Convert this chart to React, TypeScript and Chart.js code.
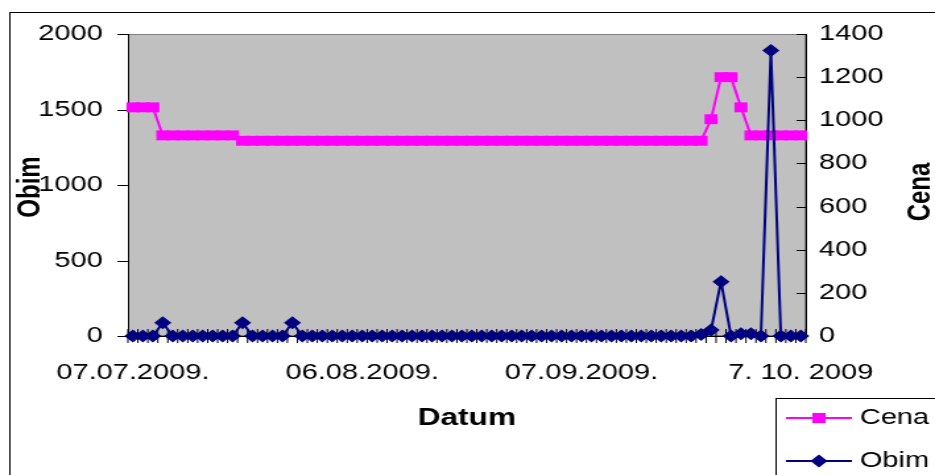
import React, { useEffect, useRef } from 'react';
import { Chart, registerables } from 'chart.js';

Chart.register(...registerables);

// ---- data ----
const tickLabels: string[] = ['07.07.2009.', '06.08.2009.', '07.09.2009.', '7. 10. 2009'];
const tickIndices: number[] = [0, 23, 45, 67];

const obim: number[] = [
  0, 0, 0, 88, 0, 0, 0, 0, 0, 0,
  0, 88, 0, 0, 0, 0, 88, 0, 0, 0,
  0, 0, 0, 0, 0, 0, 0, 0, 0, 0,
  0, 0, 0, 0, 0, 0, 0, 0, 0, 0,
  0, 0, 0, 0, 0, 0, 0, 0, 0, 0,
  0, 0, 0, 0, 0, 0, 0, 10, 40, 360,
  0, 15, 15, 0, 1890, 0, 0, 0,
];

const cena: number[] = [
  1060, 1060, 1060, 930, 930, 930, 930, 930, 930, 930,
  930, 905, 905, 905, 905, 905, 905, 905, 905, 905,
  905, 905, 905, 905, 905, 905, 905, 905, 905, 905,
  905, 905, 905, 905, 905, 905, 905, 905, 905, 905,
  905, 905, 905, 905, 905, 905, 905, 905, 905, 905,
  905, 905, 905, 905, 905, 905, 905, 905, 1005, 1200,
  1200, 1060, 930, 930, 930, 930, 930, 930,
];

const categories: string[] = obim.map((_, i) => {
  const k = tickIndices.indexOf(i);
  return k >= 0 ? tickLabels[k] : '';
});

const FONT = "'Liberation Sans', Arial, sans-serif";
const CW = 709;
const CH = 475;
const SX = 935 / CW;

const PINK = '#FF00FF';
const NAVY = '#000080';

const chartPlugin = {
  id: 'excelLook',
  beforeDraw(chart: any) {
    const ctx = chart.ctx;
    const { left, top, right, bottom } = chart.chartArea;
    ctx.save();
    ctx.fillStyle = '#ffffff';
    ctx.fillRect(0, 0, chart.width, chart.height);
    ctx.fillStyle = '#C0C0C0';
    ctx.fillRect(left, top, right - left, bottom - top);
    ctx.strokeStyle = '#808080';
    ctx.lineWidth = 1;
    ctx.strokeRect(left + 0.5, top + 0.5, right - left - 1, bottom - top - 1);
    // outer chart border
    ctx.strokeStyle = '#000000';
    ctx.strokeRect(7.5, 12.5, 900, 700);
    ctx.restore();
  },
  beforeDatasetsDraw(chart: any) {
    const ctx = chart.ctx;
    const { left, right, bottom } = chart.chartArea;
    const xs = chart.scales.x;
    const yl = chart.scales.y;
    const yr = chart.scales.y1;
    ctx.save();
    ctx.strokeStyle = '#000000';
    ctx.lineWidth = 1;
    ctx.beginPath();
    yl.ticks.forEach((t: any) => {
      const y = Math.round(yl.getPixelForValue(t.value)) + 0.5;
      ctx.moveTo(left - 8, y);
      ctx.lineTo(left, y);
    });
    yr.ticks.forEach((t: any) => {
      const y = Math.round(yr.getPixelForValue(t.value)) + 0.5;
      ctx.moveTo(right - 7, y);
      ctx.lineTo(right, y);
    });
    for (let i = 0; i <= categories.length; i++) {
      const x = xs.getPixelForValue(i - 0.5);
      ctx.moveTo(x, bottom - 7);
      ctx.lineTo(x, bottom + 7);
    }
    ctx.stroke();
    ctx.restore();
  },
  afterDraw(chart: any) {
    const ctx = chart.ctx;
    ctx.save();
    ctx.fillStyle = '#000000';
    ctx.textBaseline = 'middle';
    ctx.textAlign = 'center';
    ctx.font = `bold 24px ${FONT}`;
    ctx.fillText('Datum', 354, 418);
    ctx.save();
    ctx.translate(23, 187);
    ctx.rotate(-Math.PI / 2);
    ctx.fillText('Obim', 0, 0);
    ctx.restore();
    ctx.save();
    ctx.translate(698, 192);
    ctx.rotate(-Math.PI / 2);
    ctx.fillText('Cena', 0, 0);
    ctx.restore();

    // legend
    ctx.strokeStyle = '#000000';
    ctx.lineWidth = 1;
    ctx.strokeRect(588.5, 398.5, 300, 200);
    const items = [
      { label: chart.data.datasets[0].label, color: PINK, style: 'rect', y: 418 },
      { label: chart.data.datasets[1].label, color: NAVY, style: 'diamond', y: 461 },
    ];
    items.forEach((it) => {
      ctx.strokeStyle = it.color;
      ctx.fillStyle = it.color;
      ctx.lineWidth = 2;
      ctx.beginPath();
      ctx.moveTo(596, it.y);
      ctx.lineTo(646, it.y);
      ctx.stroke();
      ctx.beginPath();
      if (it.style === 'rect') {
        ctx.rect(621 - 5, it.y - 5, 10, 10);
      } else {
        ctx.moveTo(621, it.y - 6.5);
        ctx.lineTo(627.5, it.y);
        ctx.lineTo(621, it.y + 6.5);
        ctx.lineTo(614.5, it.y);
        ctx.closePath();
      }
      ctx.fill();
      ctx.fillStyle = '#000000';
      ctx.textAlign = 'left';
      ctx.font = `22px ${FONT}`;
      ctx.fillText(it.label, 652, it.y);
    });
    ctx.restore();
  },
};

export default function App() {
  const ref = useRef<HTMLCanvasElement | null>(null);

  useEffect(() => {
    if (!ref.current) return;
    const chart = new Chart(ref.current, {
      type: 'line',
      data: {
        labels: categories,
        datasets: [
          {
            label: 'Cena',
            data: cena,
            yAxisID: 'y1',
            borderColor: PINK,
            backgroundColor: PINK,
            borderWidth: 2,
            pointStyle: 'rect',
            pointRadius: 7,
            pointBorderWidth: 0,
            pointBackgroundColor: PINK,
            tension: 0,
            order: 1,
            clip: false as any,
          },
          {
            label: 'Obim',
            data: obim,
            yAxisID: 'y',
            borderColor: NAVY,
            backgroundColor: NAVY,
            borderWidth: 2,
            pointStyle: 'rectRot',
            pointRadius: 6.5,
            pointBorderWidth: 0,
            pointBackgroundColor: NAVY,
            tension: 0,
            order: 0,
            clip: false as any,
          },
        ],
      },
      options: {
        responsive: false,
        animation: false,
        devicePixelRatio: 1,
        layout: { padding: { top: 34, left: 0, right: 0, bottom: 0 } },
        plugins: {
          legend: { display: false },
          tooltip: { enabled: false },
          title: { display: false },
        },
        scales: {
          x: {
            type: 'category',
            offset: true,
            grid: { display: false, drawTicks: false, offset: true },
            border: { display: true, color: '#000000', width: 1 },
            ticks: {
              autoSkip: false,
              maxRotation: 0,
              minRotation: 0,
              padding: 24,
              color: '#000000',
              font: { family: FONT, size: 22 },
            },
            afterFit: (s: any) => {
              s.height = CH - 336;
            },
          },
          y: {
            type: 'linear',
            position: 'left',
            min: 0,
            max: 2000,
            grid: { display: false, drawTicks: false },
            border: { display: true, color: '#000000', width: 1 },
            ticks: {
              stepSize: 500,
              padding: 19,
              color: '#000000',
              font: { family: FONT, size: 22 },
              callback: (v: any) => String(v),
            },
            afterFit: (s: any) => {
              s.width = 97;
            },
          },
          y1: {
            type: 'linear',
            position: 'right',
            min: 0,
            max: 1400,
            grid: { display: false, drawTicks: false },
            border: { display: true, color: '#000000', width: 1 },
            ticks: {
              stepSize: 200,
              padding: 10,
              color: '#000000',
              font: { family: FONT, size: 22 },
              callback: (v: any) => String(v),
            },
            afterFit: (s: any) => {
              s.width = 98;
            },
          },
        },
      },
      plugins: [chartPlugin],
    });
    return () => chart.destroy();
  }, []);

  return (
    <div
      style={{
        position: 'fixed',
        left: 0,
        top: 0,
        width: 935,
        height: 475,
        overflow: 'hidden',
        background: '#ffffff',
      }}
    >
      <div style={{ width: CW, height: CH, transform: `scaleX(${SX})`, transformOrigin: '0 0' }}>
        <canvas ref={ref} width={CW} height={CH} style={{ display: 'block' }} />
      </div>
    </div>
  );
}
